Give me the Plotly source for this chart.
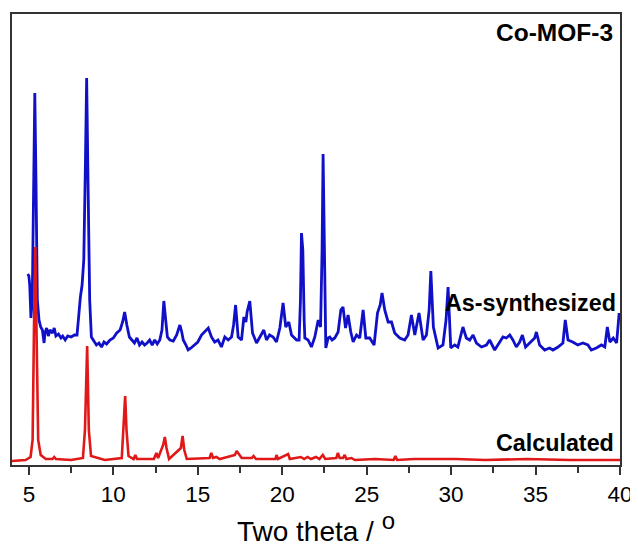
import plotly.graph_objects as go

# Reading: intensity in arbitrary units (measured from the bottom of the frame)
PLOT_BOTTOM = 465

blue_x = [4.93, 5.0, 5.05, 5.12, 5.2, 5.28, 5.35, 5.42, 5.5, 5.6, 5.7, 5.8, 5.9, 5.95, 6.05, 6.15, 6.25, 6.4, 6.5, 6.6,
          6.75, 6.9, 7.0, 7.15, 7.3, 7.5, 7.7, 7.85, 7.95, 8.05, 8.15, 8.25, 8.35, 8.42, 8.5, 8.6, 8.7, 8.85, 9.0, 9.15,
          9.3, 9.45, 9.6, 9.8, 10.0, 10.2, 10.4, 10.55, 10.67, 10.8, 10.95, 11.1, 11.25, 11.4, 11.55, 11.7, 11.85, 12.0,
          12.15, 12.3, 12.45, 12.6, 12.75, 12.88, 12.99, 13.1, 13.2, 13.35, 13.55, 13.75, 13.94, 14.05, 14.14, 14.3,
          14.43, 14.6, 14.83, 15.0, 15.22, 15.4, 15.62, 15.81, 16.0, 16.2, 16.4, 16.6, 16.8, 17.0, 17.12, 17.24, 17.39,
          17.59, 17.73, 17.85, 17.92, 18.08, 18.24, 18.48, 18.67, 18.91, 19.07, 19.25, 19.46, 19.66, 19.86, 20.05,
          20.21, 20.39, 20.55, 20.7, 20.85, 21.0, 21.08, 21.14, 21.22, 21.3, 21.34, 21.53, 21.73, 21.93, 22.13, 22.27,
          22.36, 22.42, 22.5, 22.58, 22.72, 22.82, 22.95, 23.11, 23.31, 23.47, 23.6, 23.75, 23.9, 24.06, 24.2, 24.4,
          24.59, 24.79, 24.95, 25.18, 25.44, 25.64, 25.8, 25.91, 26.07, 26.27, 26.47, 26.66, 26.96, 27.25, 27.45,
          27.65, 27.85, 28.1, 28.34, 28.54, 28.7, 28.8, 28.95, 29.23, 29.52, 29.7, 29.82, 29.98, 30.21, 30.4, 30.7,
          30.9, 31.1, 31.3, 31.5, 31.8, 32.09, 32.28, 32.58, 32.88, 33.07, 33.27, 33.47, 33.66, 33.86, 34.06, 34.22,
          34.41, 34.65, 34.95, 35.05, 35.24, 35.54, 35.83, 36.03, 36.33, 36.62, 36.76, 36.92, 37.2, 37.5, 37.8, 38.1,
          38.3, 38.6, 38.9, 39.1, 39.25, 39.4, 39.6, 39.8, 39.95]
blue_pix = [274, 276, 285, 318, 300, 160, 93, 180, 300, 320, 327, 330, 343, 333, 328, 336, 330, 333, 328, 336,
            334, 338, 336, 340, 336, 337, 335, 335, 315, 297, 285, 260, 160, 78, 180, 300, 337, 341, 345, 343,
            347, 342, 344, 340, 338, 333, 330, 322, 312, 325, 337, 340, 343, 338, 345, 342, 345, 343,
            340, 345, 340, 344, 340, 330, 301, 320, 337, 340, 341, 335, 325, 332, 340, 345,
            350, 348, 345, 342, 335, 332, 328, 337, 342, 340, 347, 337, 340, 337, 325, 305, 337,
            340, 317, 322, 312, 301, 333, 343, 337, 330, 340, 335, 337, 342, 328, 303,
            327, 322, 335, 338, 340, 340, 300, 233, 250, 320, 338, 340, 347, 337, 320, 327,
            250, 154, 250, 348, 338, 337, 340, 338, 332, 310, 307, 328, 315, 332, 342, 335,
            338, 310, 338, 338, 345, 313, 305, 293, 310, 322, 322, 333, 338, 340, 335,
            315, 335, 313, 340, 335, 310, 271, 327, 348, 345, 320, 287, 348, 345, 347, 327,
            338, 340, 335, 343, 347, 345, 340, 350, 342, 337, 338, 335, 340, 347, 342, 335,
            347, 343, 338, 332, 345, 350, 348, 350, 347, 343, 320, 340, 342, 345, 343, 345,
            350, 348, 345, 347, 327, 342, 338, 343, 313]

red_x = [4.0, 4.8, 5.1, 5.22, 5.3, 5.38, 5.46, 5.55, 5.7, 6.0, 6.4, 6.5, 6.6, 7.5, 8.2, 8.32, 8.45, 8.55, 8.68,
         9.5, 10.5, 10.6, 10.7, 10.78, 10.9, 11.2, 11.3, 11.4, 12.4, 12.55, 12.65, 12.95, 13.05, 13.15, 13.3,
         14.0, 14.1, 14.2, 14.35, 15.7, 15.8, 15.9, 16.1, 16.3, 17.2, 17.3, 17.45, 17.6, 18.2, 18.3, 18.45,
         19.6, 19.66, 19.75, 20.35, 20.45, 21.1, 21.3, 21.5, 21.7, 22.0, 22.2, 22.4, 22.55, 23.2, 23.3, 23.4,
         23.6, 23.7, 23.8, 24.1, 24.3, 25.5, 26.6, 26.7, 26.8, 27.8, 28.0, 30.3, 32.0, 34.5, 37.0, 40.0]
red_pix = [461, 460, 457, 440, 330, 247, 340, 440, 455, 459, 459, 457, 459, 460, 458, 430, 346, 430, 456,
           460, 458, 430, 396, 430, 456, 459, 455, 459, 459, 453, 458, 445, 437, 448, 459,
           448, 436, 450, 459, 458, 453, 458, 457, 459, 455, 451, 455, 458, 458, 456, 459,
           459, 455, 459, 454, 459, 457, 459, 457, 459, 457, 459, 455, 459, 458, 453, 458,
           458, 455, 459, 458, 460, 459, 460, 456, 460, 459, 459, 459, 460, 459, 460, 460]

blue_y = [PLOT_BOTTOM - p for p in blue_pix]
red_y = [PLOT_BOTTOM - p for p in red_pix]

x_ticks = [5, 10, 15, 20, 25, 30, 35, 40]
labels = ["Co-MOF-3", "As-synthesized", "Calculated"]

FONT = "Liberation Sans, Arial, sans-serif"

fig = go.Figure()
fig.add_trace(go.Scatter(x=blue_x, y=blue_y, mode="lines",
                         line=dict(color="#1010c8", width=2.8), showlegend=False))
fig.add_trace(go.Scatter(x=red_x, y=red_y, mode="lines",
                         line=dict(color="#e01818", width=2.6), showlegend=False))

fig.update_layout(
    width=630, height=539,
    margin=dict(l=4, r=18, t=6, b=82, autoexpand=False),
    paper_bgcolor="white", plot_bgcolor="white",
    font=dict(family=FONT, color="black"),
    xaxis=dict(range=[4, 40], tickvals=x_ticks, ticktext=[str(v) for v in x_ticks],
               automargin=False,
               showgrid=False, zeroline=False, showline=True, mirror=True,
               linecolor="#333333", linewidth=1.6,
               ticks="outside", ticklen=8, tickwidth=1.5, tickcolor="#333333",
               minor=dict(tickvals=[7.5, 12.5, 17.5, 22.5, 27.5, 32.5, 37.5],
                          ticks="outside", ticklen=6, tickwidth=1.5, tickcolor="#333333"),
               tickfont=dict(size=22.5, family=FONT, color="black"),
               title=dict(text="Two theta / <sup><span style=\"font-size:24px\">o</span></sup>",
                          font=dict(size=28, family=FONT, color="black"),
                          standoff=20)),
    yaxis=dict(range=[0, 451], automargin=False, showgrid=False, zeroline=False, showline=True, mirror=True,
               linecolor="#333333", linewidth=1.6, ticks="", showticklabels=False),
    annotations=[
        dict(text="<b>%s</b>" % labels[0], x=0.992, y=0.958, xref="paper", yref="paper",
             xanchor="right", yanchor="middle", showarrow=False, font=dict(size=24.5, family=FONT, color="black")),
        dict(text="<b>%s</b>" % labels[1], x=0.997, y=0.359, xref="paper", yref="paper",
             xanchor="right", yanchor="middle", showarrow=False, font=dict(size=23.3, family=FONT, color="black")),
        dict(text="<b>%s</b>" % labels[2], x=0.993, y=0.049, xref="paper", yref="paper",
             xanchor="right", yanchor="middle", showarrow=False, font=dict(size=23.3, family=FONT, color="black")),
    ],
)

fig.write_html("out.html")
